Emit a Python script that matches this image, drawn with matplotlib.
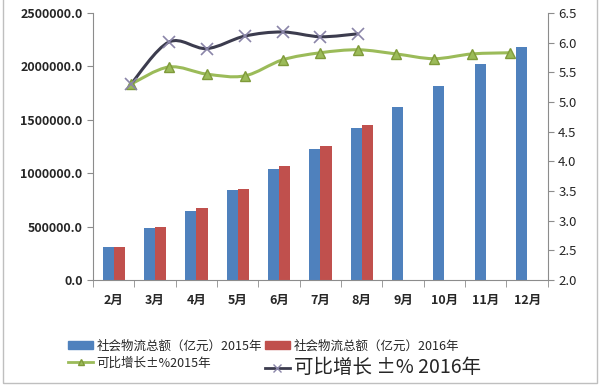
# -*- coding: utf-8 -*-
"""社会物流总额及可比增长：2015 vs 2016（柱 + 平滑折线，双 y 轴）"""
import numpy as np
import matplotlib
matplotlib.use('Agg')
import matplotlib.pyplot as plt
from matplotlib.path import Path
from matplotlib.patches import PathPatch, Patch, Rectangle
from matplotlib.lines import Line2D
from matplotlib.ticker import FuncFormatter

plt.rcParams['font.family'] = ['Noto Sans CJK SC', 'DejaVu Sans']

# ============================ 数据 ============================
months = ['2月', '3月', '4月', '5月', '6月', '7月', '8月', '9月', '10月', '11月', '12月']
total_2015 = [309000, 487000, 646000, 843000, 1039000, 1227000, 1423000,
              1620000, 1816000, 2022000, 2180000]
total_2016 = [310000, 496000, 674000, 852000, 1067000, 1255000, 1451000]
growth_2015 = [5.30, 5.59, 5.47, 5.44, 5.71, 5.83, 5.88, 5.81, 5.73, 5.81, 5.83]
growth_2016 = [5.30, 6.01, 5.90, 6.11, 6.18, 6.10, 6.15]

label_bar15 = '社会物流总额（亿元）2015年'
label_bar16 = '社会物流总额（亿元）2016年'
label_line15 = '可比增长±%2015年'
label_line16 = '可比增长 ±% 2016年'
# =============================================================

BLUE = '#4F81BD'
RED = '#C0504D'
GREEN = '#9BBB59'
GREEN_DARK = '#7F9A3A'
DARK = '#3C3C4E'
GRAY = '#8C8C8C'
TXT = '#262626'


def smooth_path(xs, ys):
    """Catmull-Rom → 三次贝塞尔，模仿 Excel 的平滑线。"""
    p = np.column_stack([xs, ys]).astype(float)
    n = len(p)
    verts = [p[0]]
    codes = [Path.MOVETO]
    for i in range(n - 1):
        p0 = p[i - 1] if i > 0 else p[i]
        p3 = p[i + 2] if i + 2 < n else p[i + 1]
        c1 = p[i] + (p[i + 1] - p0) / 6.0
        c2 = p[i + 1] - (p3 - p[i]) / 6.0
        verts += [c1, c2, p[i + 1]]
        codes += [Path.CURVE4] * 3
    return Path(verts, codes)


fig = plt.figure(figsize=(6.0, 3.88), dpi=100)
pos = [0.155, 0.2784, 0.913 - 0.155, 0.9665 - 0.2784]
ax = fig.add_axes(pos)

x = np.arange(len(months))
w = 0.27
ax.bar(x - w / 2, total_2015, w, color=BLUE, zorder=2)
ax.bar(x[:len(total_2016)] + w / 2, total_2016, w, color=RED, zorder=2)

ax.set_xlim(-0.5, len(months) - 0.5)
ax.set_ylim(0, 2500000)
ax.set_yticks(np.arange(0, 2500001, 500000))
ax.yaxis.set_major_formatter(FuncFormatter(lambda v, _: '%.1f' % v))
ax.set_xticks(x)
ax.set_xticklabels(months)
ax.set_xticks(np.arange(-0.5, len(months), 1.0), minor=True)
ax.tick_params(axis='x', which='major', length=0, pad=10, labelsize=9, colors=TXT)
ax.tick_params(axis='x', which='minor', length=5, color=GRAY)
ax.tick_params(axis='y', length=4, color=GRAY, labelsize=9, colors=TXT)
for lab in ax.get_yticklabels():
    lab.set_fontweight('bold')
for lab in ax.get_xticklabels():
    lab.set_fontweight('bold')
ax.spines['top'].set_visible(False)
ax.spines['right'].set_visible(False)
for s in ('left', 'bottom'):
    ax.spines[s].set_color(GRAY)

# 右轴：可比增长
ax2 = ax.twinx()
ax2.set_ylim(2.0, 6.5)
ax2.set_yticks(np.arange(2.0, 6.51, 0.5))
ax2.yaxis.set_major_formatter(FuncFormatter(lambda v, _: '%.1f' % v))
ax2.tick_params(axis='y', length=4, color=GRAY, labelsize=9.5, colors=TXT)
for s in ('top', 'left', 'bottom'):
    ax2.spines[s].set_visible(False)
ax2.spines['right'].set_color(GRAY)

# 折线用的次级横轴（与柱的分类轴错开）
ax3 = fig.add_axes(pos, frameon=False)
ax3.set_xlim(-1, 11)
ax3.set_ylim(2.0, 6.5)
ax3.axis('off')
xl15 = np.arange(len(growth_2015))
xl16 = np.arange(len(growth_2016))
ax3.add_patch(PathPatch(smooth_path(xl15, growth_2015), fill=False,
                        edgecolor=GREEN, lw=2.2, zorder=3))
ax3.plot(xl15, growth_2015, ls='none', marker='^', ms=7,
         mfc=GREEN, mec=GREEN_DARK, zorder=4)
ax3.add_patch(PathPatch(smooth_path(xl16, growth_2016), fill=False,
                        edgecolor=DARK, lw=2.2, zorder=3))
ax3.plot(xl16, growth_2016, ls='none', marker='x', ms=8, mew=1.2,
         color='#8A85A8', zorder=4)

# 图例
handles = [
    Patch(color=BLUE, label=label_bar15),
    Line2D([], [], color=GREEN, lw=2, marker='^', ms=5, mfc=GREEN,
           mec=GREEN_DARK, label=label_line15),
    Patch(color=RED, label=label_bar16),
    Line2D([], [], color=DARK, lw=2, marker='x', ms=6,
           mec='#8A85A8', label=label_line16),
]
leg = fig.legend(handles=handles, ncol=2, loc='upper left',
                 bbox_to_anchor=(0.105, 0.137), frameon=False,
                 fontsize=9, handlelength=2.0, handleheight=0.6,
                 handletextpad=0.3, columnspacing=0.2, labelspacing=0.3,
                 borderaxespad=0)
for t in leg.get_texts():
    t.set_color(TXT)
leg.get_texts()[3].set_fontsize(14)
leg.get_texts()[3].set_fontweight('light')

# 图表区外框
fig.patches.append(Rectangle((0.005, 0.013), 0.99, 1.2, transform=fig.transFigure,
                             fill=False, edgecolor='#BFBFBF', lw=1.0))

fig.savefig('out.png', dpi=100)
